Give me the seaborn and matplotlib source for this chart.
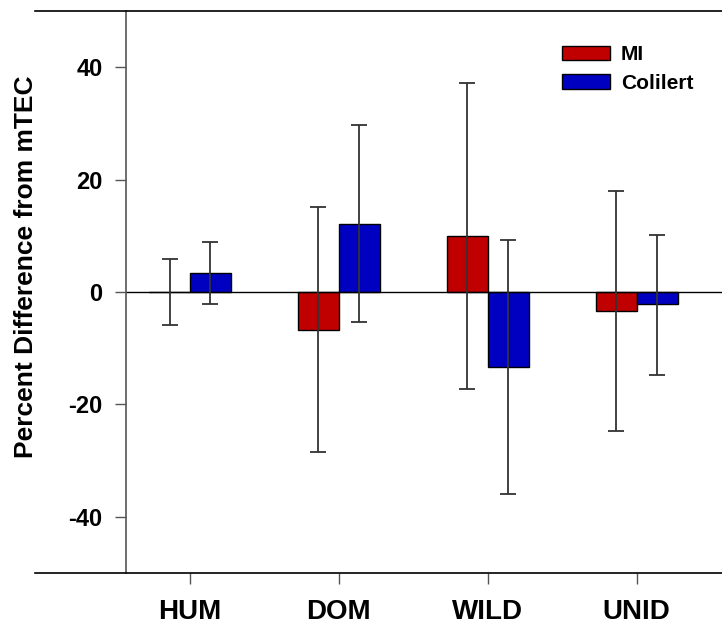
import pandas as pd
import seaborn as sns
import matplotlib.pyplot as plt

# === Data ===
sources = ['HUM', 'DOM', 'WILD', 'UNID']
methods = ['MI', 'Colilert']

mi_mean = [0.0, -6.8, 9.9, -3.4]
mi_upper = [5.9, 15.2, 37.2, 18.0]
mi_lower = [-5.9, -28.5, -17.3, -24.8]

col_mean = [3.4, 12.1, -13.3, -2.2]
col_upper = [8.9, 29.7, 9.2, 10.1]
col_lower = [-2.2, -5.3, -36.0, -14.7]

y_ticks = [-40, -20, 0, 20, 40]

df = pd.DataFrame({
    'Source': sources * 2,
    'Method': ['MI'] * 4 + ['Colilert'] * 4,
    'Diff': mi_mean + col_mean,
})

sns.set_style('white')
plt.rcParams['font.family'] = ['Liberation Sans', 'DejaVu Sans']
plt.rcParams['font.weight'] = 'bold'
plt.rcParams['axes.unicode_minus'] = False
plt.rcParams['text.color'] = 'black'
plt.rcParams['axes.labelcolor'] = 'black'
plt.rcParams['xtick.labelcolor'] = 'black'
plt.rcParams['ytick.labelcolor'] = 'black'

fig = plt.figure(figsize=(7.22, 6.28), dpi=100)
ax = fig.add_axes([126 / 722, 55 / 628, 597 / 722, 562 / 628])

palette = {'MI': '#C00000', 'Colilert': '#0000C0'}
sns.barplot(data=df, x='Source', y='Diff', hue='Method', order=sources,
            hue_order=methods, palette=palette, width=0.55, saturation=1,
            edgecolor='black', linewidth=1, errorbar=None, ax=ax)

ax.axhline(0, color='black', lw=1, zorder=2)

# asymmetric error bars centred on each bar
bounds = {'MI': (mi_mean, mi_lower, mi_upper), 'Colilert': (col_mean, col_lower, col_upper)}
for container, m in zip(ax.containers, methods):
    mean, lo, hi = bounds[m]
    xs = [b.get_x() + b.get_width() / 2 for b in container]
    yerr = [[v - l for v, l in zip(mean, lo)], [h - v for v, h in zip(mean, hi)]]
    ax.errorbar(xs, mean, yerr=yerr, fmt='none', ecolor='#333333',
                elinewidth=1.3, capsize=5.8, capthick=1.3, zorder=3)

ax.set_xlim(-0.43, 3.58)
ax.set_ylim(-50, 50)
ax.set_yticks(y_ticks)
ax.set_xlabel('')
ax.set_ylabel('Percent Difference from mTEC', fontsize=19, fontweight='bold')
ax.yaxis.set_label_coords(-0.148, 0.545)

ax.tick_params(axis='y', direction='out', length=8, width=1, pad=9,
               labelsize=17, left=True, color='#555555')
ax.tick_params(axis='x', direction='out', length=8, width=1, pad=11,
               labelsize=20, bottom=True, color='#555555')
for lab in ax.get_xticklabels() + ax.get_yticklabels():
    lab.set_fontweight('bold')

for s in ['top', 'bottom']:
    ax.spines[s].set_color('black')
    ax.spines[s].set_linewidth(1.2)
    ax.spines[s].set_bounds(-1.04, 3.58)
ax.spines['left'].set_color('#555555')
ax.spines['left'].set_linewidth(1.2)
ax.spines['right'].set_visible(False)

leg = ax.legend(loc='upper left', bbox_to_anchor=((552 - 126) / 597, (573 - 35) / 562),
                frameon=False, borderpad=0, handlelength=2.3, handleheight=0.7,
                handletextpad=0.5, labelspacing=0.45,
                prop={'size': 15, 'weight': 'bold'})
for h in leg.legend_handles:
    h.set_edgecolor('black')

fig.savefig('out.png', dpi=100)
